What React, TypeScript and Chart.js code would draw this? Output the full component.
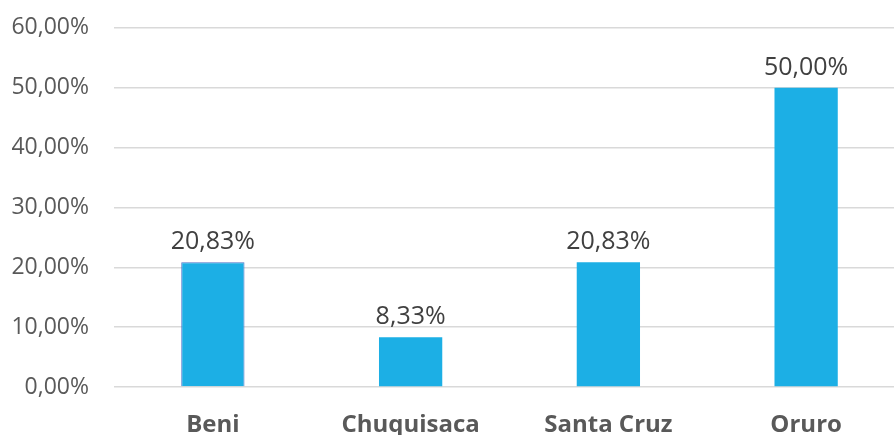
import React, { useEffect, useRef } from "react";
import { Chart, registerables } from "chart.js";

Chart.register(...registerables);

const categories = ["Beni", "Chuquisaca", "Santa Cruz", "Oruro"];
const values = [20.83, 8.33, 20.83, 50.0];
const yTicks = [0, 10, 20, 30, 40, 50, 60];

const fmt = (v: number) => v.toFixed(2).replace(".", ",") + "%";

const dataLabels = {
  id: "dataLabels",
  afterDatasetsDraw(chart: any) {
    const ctx = chart.ctx;
    const meta = chart.getDatasetMeta(0);
    ctx.save();
    ctx.font = "25px 'Open Sans'";
    ctx.fillStyle = "#404040";
    ctx.textAlign = "center";
    ctx.textBaseline = "alphabetic";
    meta.data.forEach((bar: any, i: number) => {
      ctx.fillText(fmt(values[i]), bar.x, bar.y - 13);
    });
    ctx.restore();
  },
};

export default function App() {
  const ref = useRef<HTMLCanvasElement>(null);
  useEffect(() => {
    const chart = new Chart(ref.current!, {
      type: "bar",
      data: {
        labels: categories,
        datasets: [
          {
            data: values,
            backgroundColor: "#1CAFE5",
            borderColor: ["#4A74C8", "#1CAFE5", "#1CAFE5", "#1CAFE5"],
            borderWidth: [1, 0, 0, 0],
            categoryPercentage: 1,
            barPercentage: 0.32,
          },
        ],
      },
      options: {
        responsive: false,
        animation: false,
        layout: { padding: { top: 14, right: 0, left: 0, bottom: 0 } },
        plugins: { legend: { display: false }, tooltip: { enabled: false } },
        scales: {
          x: {
            border: { display: false },
            grid: { display: false, drawTicks: false },
            ticks: {
              color: "#595959",
              font: { family: "'Open Sans'", size: 24, weight: "bold" },
              padding: 24,
            },
            afterFit: (s: any) => {
              s.height = 48;
            },
          },
          y: {
            min: 0,
            max: 60,
            border: { display: false },
            grid: { color: "#D9D9D9", lineWidth: 1.5, drawTicks: false },
            afterBuildTicks: (s: any) => {
              s.ticks = yTicks.map((v) => ({ value: v }));
            },
            ticks: {
              color: "#595959",
              font: { family: "'Open Sans'", size: 23 },
              padding: 25,
              callback: (v: any) => fmt(Number(v)),
            },
            afterFit: (s: any) => {
              s.width = 114;
            },
          },
        },
      },
      plugins: [dataLabels],
    });
    return () => chart.destroy();
  }, []);
  return (
    <div
      style={{
        position: "fixed",
        left: 0,
        top: 0,
        width: 894,
        height: 435,
        overflow: "hidden",
        background: "#fff",
      }}
    >
      <canvas
        ref={ref}
        width={905}
        height={446}
        style={{ display: "block", marginTop: -11 }}
      />
    </div>
  );
}
